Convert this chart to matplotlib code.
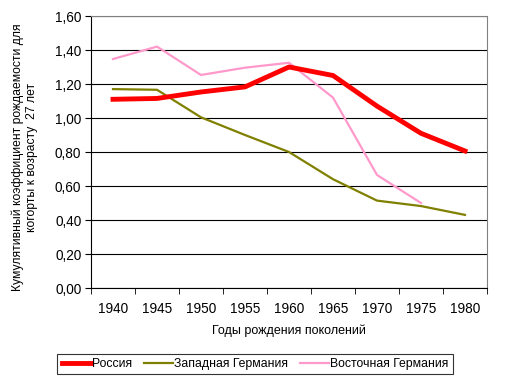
import matplotlib.pyplot as plt
import numpy as np

plt.rcParams['font.family'] = ['Liberation Sans', 'DejaVu Sans']

years = ['1940', '1945', '1950', '1955', '1960', '1965', '1970', '1975', '1980']
russia = [1.11, 1.115, 1.153, 1.183, 1.30, 1.25, 1.07, 0.91, 0.806]
west = [1.17, 1.166, 1.004, 0.90, 0.80, 0.64, 0.514, 0.482, 0.43]
east = [1.347, 1.42, 1.253, 1.296, 1.325, 1.12, 0.665, 0.50, np.nan]

fig = plt.figure(figsize=(5.10, 3.87), dpi=100)
ax = fig.add_axes([91/510, 99/387, 396/510, 272/387])

x = np.arange(len(years))
ax.plot(x, russia, color='#ff0000', lw=3.5, label='Россия', zorder=4)
ax.plot(x, west, color='#808000', lw=1.6, label='Западная Германия', zorder=3)
ax.plot(x, east, color='#ff99cc', lw=1.6, label='Восточная Германия', zorder=3)

ax.set_xlim(-0.5, len(years) - 0.5)
ax.set_ylim(0, 1.6)
yt = np.arange(0, 1.61, 0.2)
ax.set_yticks(yt)
ax.set_yticklabels([f'{v:.2f}'.replace('.', ',') for v in yt], fontsize=9.8)
ax.set_xticks(x)
ax.set_xticklabels(years, fontsize=9.8)
ax.set_xticks(np.arange(-0.5, len(years)), minor=True)
ax.tick_params(axis='x', which='major', length=0, pad=10)
ax.tick_params(axis='x', which='minor', length=4, direction='out', color='black')
ax.tick_params(axis='y', length=4, direction='out', color='black', pad=3)

ax.grid(axis='y', color='black', lw=0.8)
ax.set_axisbelow(True)
for s in ['top', 'right']:
    ax.spines[s].set_color('#808080')
for s in ['left', 'bottom']:
    ax.spines[s].set_color('black')

ax.set_xlabel('Годы рождения поколений', fontsize=9, labelpad=6)
ax.set_ylabel('Кумулятивный коэффициент рождаемости для\nкогорты к возрасту  27 лет',
              fontsize=8.7)
ax.yaxis.set_label_coords(-0.134, 0.48)

leg = fig.legend(loc='center', bbox_to_anchor=(255/510, 1 - 364/387), ncol=3,
                 fontsize=8.8, frameon=True, fancybox=False, edgecolor='black',
                 handlelength=2.4, handletextpad=0.05, columnspacing=1.0,
                 borderpad=0.35)
leg.get_frame().set_linewidth(0.8)

fig.savefig('out.png', dpi=100)
